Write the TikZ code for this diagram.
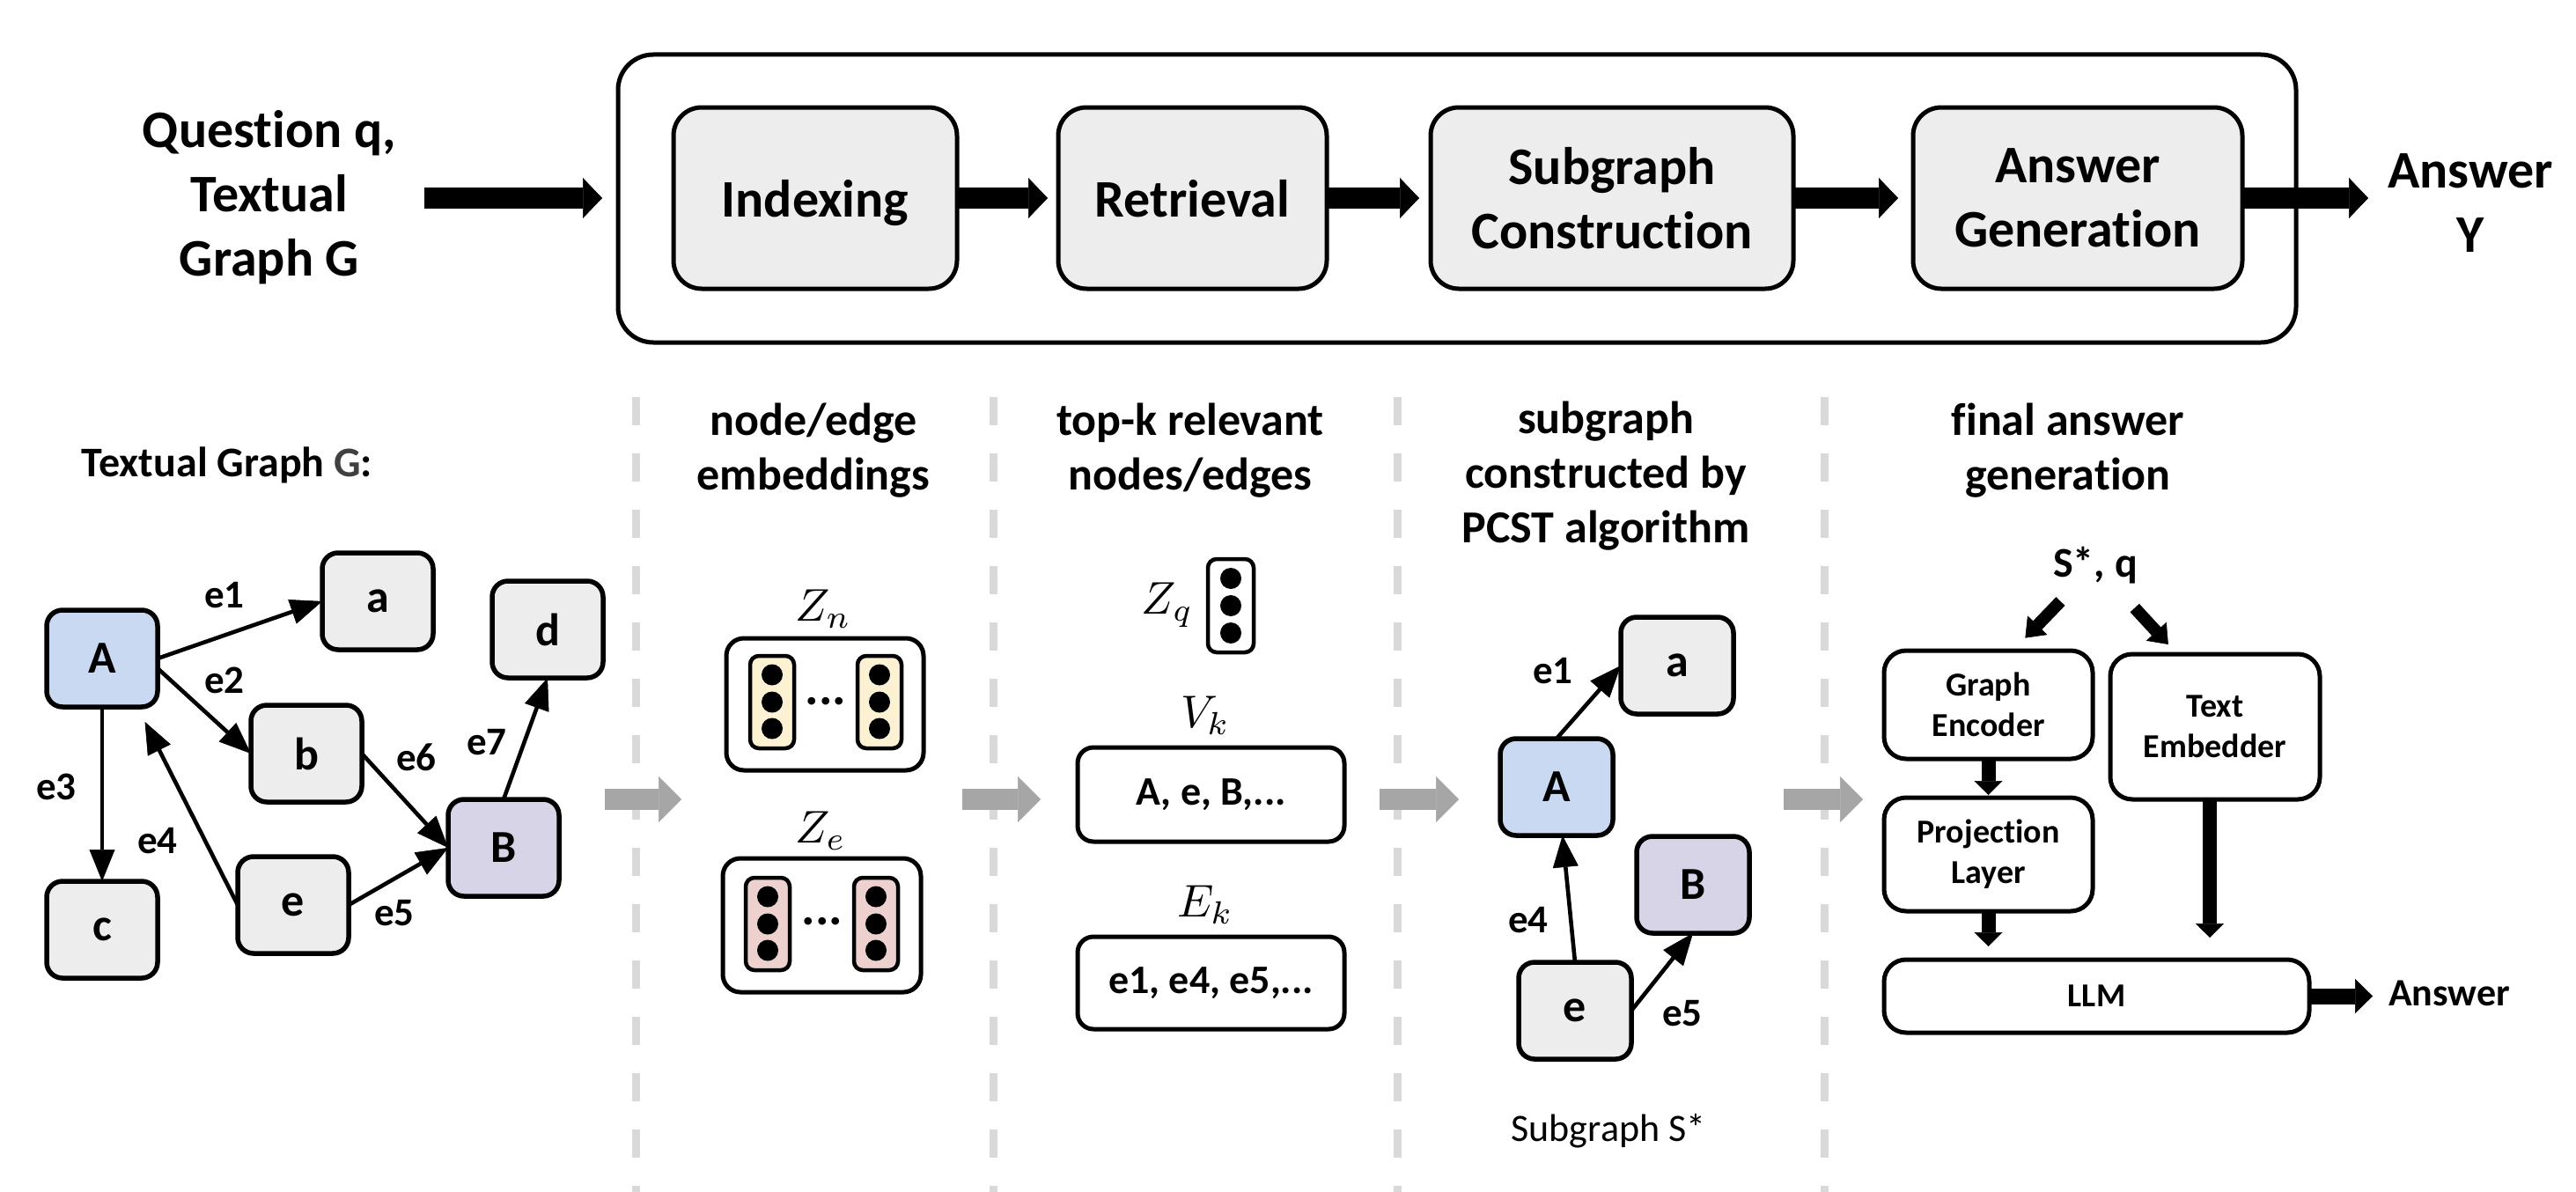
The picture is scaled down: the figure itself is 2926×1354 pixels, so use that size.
\documentclass[tikz,border=0pt]{standalone}
\usepackage{fontspec}
\setmainfont{Carlito}[Ligatures=NoCommon]
\usetikzlibrary{arrows.meta,calc}
\definecolor{ngray}{HTML}{EDEDED}
\definecolor{nblue}{HTML}{C9D9F2}
\definecolor{npurple}{HTML}{D8D4E8}
\definecolor{vyellow}{HTML}{FCF1D2}
\definecolor{vpink}{HTML}{EDD1CF}
\definecolor{agray}{HTML}{A6A6A6}
\definecolor{dgray}{HTML}{D9D9D9}
\definecolor{tgray}{HTML}{404040}
\newcommand\myfs[2]{\fontsize{#1}{#2}\selectfont}
\begin{document}
\begin{tikzpicture}[x=1pt,y=-1pt,
  every node/.style={inner sep=0pt, outer sep=0pt},
  topbox/.style={draw, line width=5pt, fill=ngray, rounded corners=32pt, minimum height=206pt, align=center, font=\myfs{60}{73}\bfseries},
  bigtext/.style={align=center, font=\myfs{60}{73}\bfseries},
  coltitle/.style={align=center, font=\myfs{52}{62}\bfseries},
  gnode/.style={draw, line width=5.5pt, fill=ngray, rounded corners=18pt, minimum width=126pt, minimum height=110pt, font=\myfs{52}{60}\bfseries},
  elabel/.style={font=\myfs{45}{54}\bfseries},
  gedge/.style={line width=4.6pt, -{Triangle[width=29pt,length=36pt,line width=0.5pt]}},
  blockarrow/.style={line width=24pt, -{Triangle[width=46pt,length=22pt,line width=0.5pt]}},
  grayarrow/.style={agray, line width=24pt, -{Triangle[width=52pt,length=26pt,line width=0.5pt]}},
  smallarrow/.style={line width=16pt, -{Triangle[width=32pt,length=16pt,line width=0.5pt]}},
  llmarrow/.style={line width=18pt, -{Triangle[width=39pt,length=20pt,line width=0.5pt]}},
  diagarrow/.style={line width=14pt, -{Triangle[width=31pt,length=20pt,line width=0.5pt]}},
  sepline/.style={dgray, line width=9pt, dash pattern=on 32pt off 32pt},
  mathlabel/.style={scale=5.2, font=\myfs{10}{12}},
  whitebox/.style={draw, line width=5pt, fill=white, rounded corners=20pt},
  vecbox/.style={draw, line width=4.5pt, rounded corners=10pt, minimum width=50pt, minimum height=105pt},
  vdot/.style={circle, fill=black, minimum size=24pt},
  ellip/.style={font=\myfs{58}{60}\bfseries},
  flowbox/.style={draw, line width=5pt, fill=white, rounded corners=25pt, align=center, font=\myfs{38}{46}\bfseries},
]
\fill[white] (0,0) rectangle (2926,1354);
\useasboundingbox (0,0) rectangle (2926,1354);

% ---------- top pipeline ----------
\node[draw, line width=5pt, rounded corners=40pt, minimum width=1906pt, minimum height=327pt] (pipe) at (1655,225.5) {};
\node[topbox, minimum width=322pt, text depth=0pt] (ind) at (926,225) {Indexing};
\node[topbox, minimum width=305pt, text depth=0pt] (ret) at (1354.5,225) {Retrieval};
\node[topbox, minimum width=412pt] (sub) at (1831,225) {Subgraph\\Construction};
\node[topbox, minimum width=374pt] (ag) at (2360,225) {Answer\\Generation};
\node[bigtext] (qin) at (306,224) {Question q,\\Textual\\Graph G};
\node[bigtext] (ansy) at (2806,231) {Answer\\Y};

\draw[blockarrow, shorten <=32pt, shorten >=18pt] (qin.east |- ind.west) -- (pipe.west |- ind.west);
\draw[blockarrow, shorten >=12pt] (ind.east) -- (ret.west);
\draw[blockarrow, shorten >=13pt] (ret.east) -- (sub.west);
\draw[blockarrow, shorten >=17pt] (sub.east) -- (ag.west);
\draw[blockarrow, shorten >=22pt] (ag.east) -- (ag.east -| ansy.west);

% ---------- column 1: textual graph ----------
\node[font=\myfs{48}{58}\bfseries] (tg) at (258,528) {Textual Graph \textcolor{tgray}{G}:};
\node[gnode, fill=nblue] (A) at (116,748) {A};
\node[gnode] (a) at (429,683) {a};
\node[gnode] (d) at (622,715) {d};
\node[gnode] (b) at (348,856) {b};
\node[gnode, fill=npurple] (B) at (572,963) {B};
\node[gnode] (e) at (333,1028) {e};
\node[gnode] (c) at (116,1056) {c};

\draw[gedge] (A.east) -- (a.west);
\draw[gedge] (A.-10) -- (b.west);
\draw[gedge] (A.south) -- (c.north);
\draw[gedge, shorten >=19pt] (e.west) -- ($(A.south)+(40,0)$);
\draw[gedge] (e.east) -- (B.west);
\draw[gedge] (b.east) -- (B.west);
\draw[gedge] (B.north) -- (d.south);

\node[elabel] (le1) at (255,676) {e1};
\node[elabel] (le2) at (255,773) {e2};
\node[elabel] (le3) at (64,894) {e3};
\node[elabel] (le4) at (179,955) {e4};
\node[elabel] (le5) at (448,1037) {e5};
\node[elabel] (le6) at (473,860) {e6};
\node[elabel] (le7) at (553,843) {e7};

% ---------- dashed separators ----------
\foreach \x [count=\i] in {722,1128,1587,2072} {
  \coordinate (sept\i) at (\x,451);
  \coordinate (sepb\i) at (\x,1354);
  \draw[sepline] (sept\i) -- (sepb\i);
}

% ---------- gray arrows between columns ----------
\coordinate (g1s) at (687,908);  \coordinate (g1e) at (774,908);
\coordinate (g2s) at (1093,908); \coordinate (g2e) at (1182,908);
\coordinate (g3s) at (1567,908); \coordinate (g3e) at (1657,908);
\coordinate (g4s) at (2026,908); \coordinate (g4e) at (2116,908);
\draw[grayarrow] (g1s) -- (g1e);
\draw[grayarrow] (g2s) -- (g2e);
\draw[grayarrow] (g3s) -- (g3e);
\draw[grayarrow] (g4s) -- (g4e);

% ---------- column 2: embeddings ----------
\node[coltitle] (t2) at (924,512) {node/edge\\embeddings};
\node[mathlabel] (zn) at (935,692) {$Z_n$};
\node[whitebox, minimum width=224pt, minimum height=150pt] (znb) at (937,800) {};
\node[vecbox, fill=vyellow] (zn1) at (877,797.5) {};
\node[vecbox, fill=vyellow] (zn2) at (999,797.5) {};
\foreach \dy [count=\i] in {-31,0,30} {
  \node[vdot] (zn1d\i) at ($(zn1)+(0,\dy)$) {};
  \node[vdot] (zn2d\i) at ($(zn2)+(0,\dy)$) {};
}
\node[ellip] (znx) at (938,797) {...};

\node[mathlabel] (ze) at (932,944) {$Z_e$};
\node[whitebox, minimum width=225pt, minimum height=152pt] (zeb) at (933.5,1051) {};
\node[vecbox, fill=vpink] (ze1) at (872,1049.5) {};
\node[vecbox, fill=vpink] (ze2) at (995,1049.5) {};
\foreach \dy [count=\i] in {-31,0,30} {
  \node[vdot] (ze1d\i) at ($(ze1)+(0,\dy)$) {};
  \node[vdot] (ze2d\i) at ($(ze2)+(0,\dy)$) {};
}
\node[ellip] (zex) at (934,1047) {...};

% ---------- column 3: retrieval ----------
\node[coltitle] (t3) at (1352,512) {top-k relevant\\nodes/edges};
\node[mathlabel] (zq) at (1326,687) {$Z_q$};
\node[vecbox, fill=white, minimum width=52pt, minimum height=106pt] (zqv) at (1398,688) {};
\foreach \dy [count=\i] in {-31,0,31} {
  \node[vdot] (zqd\i) at ($(zqv)+(0,\dy)$) {};
}
\node[mathlabel] (vk) at (1369,813) {$V_k$};
\node[whitebox, minimum width=303pt, minimum height=107pt, rounded corners=18pt, font=\myfs{46}{56}\bfseries] (vkb) at (1375.5,902.5) {A, e, B,...};
\node[mathlabel] (ek) at (1369,1028) {$E_k$};
\node[whitebox, minimum width=303pt, minimum height=105pt, rounded corners=18pt, font=\myfs{46}{56}\bfseries] (ekb) at (1375.5,1116.5) {e1, e4, e5,...};

% ---------- column 4: subgraph ----------
\node[coltitle] (t4) at (1824,541) {subgraph\\constructed by\\PCST algorithm};
\node[gnode, minimum width=128pt] (sa) at (1905,756) {a};
\node[gnode, fill=nblue, minimum width=128pt] (sA) at (1768,894) {A};
\node[gnode, fill=npurple, minimum width=128pt] (sB) at (1923,1005) {B};
\node[gnode, minimum width=128pt] (se) at (1789,1148) {e};
\draw[gedge] (sA.north) -- (sa.west);
\draw[gedge] (se.north) -- (sA.-83);
\draw[gedge] (se.east) -- (sB.south);
\node[elabel] (sl1) at (1764,762) {e1};
\node[elabel] (sl4) at (1736,1045) {e4};
\node[elabel] (sl5) at (1911,1151) {e5};
\node[font=\myfs{44}{52}] (sstar) at (1827,1285) {Subgraph S*};

% ---------- column 5: generation ----------
\node[coltitle] (t5) at (2349,512) {final answer\\generation};
\node[font=\myfs{48}{56}\bfseries] (sq) at (2380,642) {S*, q};
\node[flowbox, minimum width=237pt, minimum height=123pt] (ge) at (2258.5,800.5) {Graph\\Encoder};
\node[flowbox, minimum width=238pt, minimum height=165pt] (te) at (2516,825.5) {Text\\Embedder};
\node[flowbox, minimum width=237pt, minimum height=129pt] (pl) at (2258.5,970.5) {Projection\\Layer};
\node[flowbox, minimum width=483pt, minimum height=83pt] (llm) at (2381.5,1131.5) {LLM};
\node[font=\myfs{44}{52}\bfseries] (ans) at (2782,1128) {Answer};

\draw[diagarrow, shorten <=57pt, shorten >=20pt] (sq.center) -- ($(ge.north)+(28,0)$);
\draw[diagarrow, shorten <=66pt, shorten >=15pt] (sq.center) -- ($(te.north)+(-43,0)$);
\draw[smallarrow, shorten >=3pt] (ge.south) -- (pl.north);
\draw[smallarrow, shorten >=15pt] (pl.south) -- (pl.south |- llm.north);
\draw[smallarrow, shorten >=25pt] ($(te.south)+(-6,0)$) -- ($(te.south |- llm.north)+(-6,0)$);
\draw[llmarrow, shorten >=18pt] (llm.east) -- (llm.east -| ans.west);
\end{tikzpicture}
\end{document}
